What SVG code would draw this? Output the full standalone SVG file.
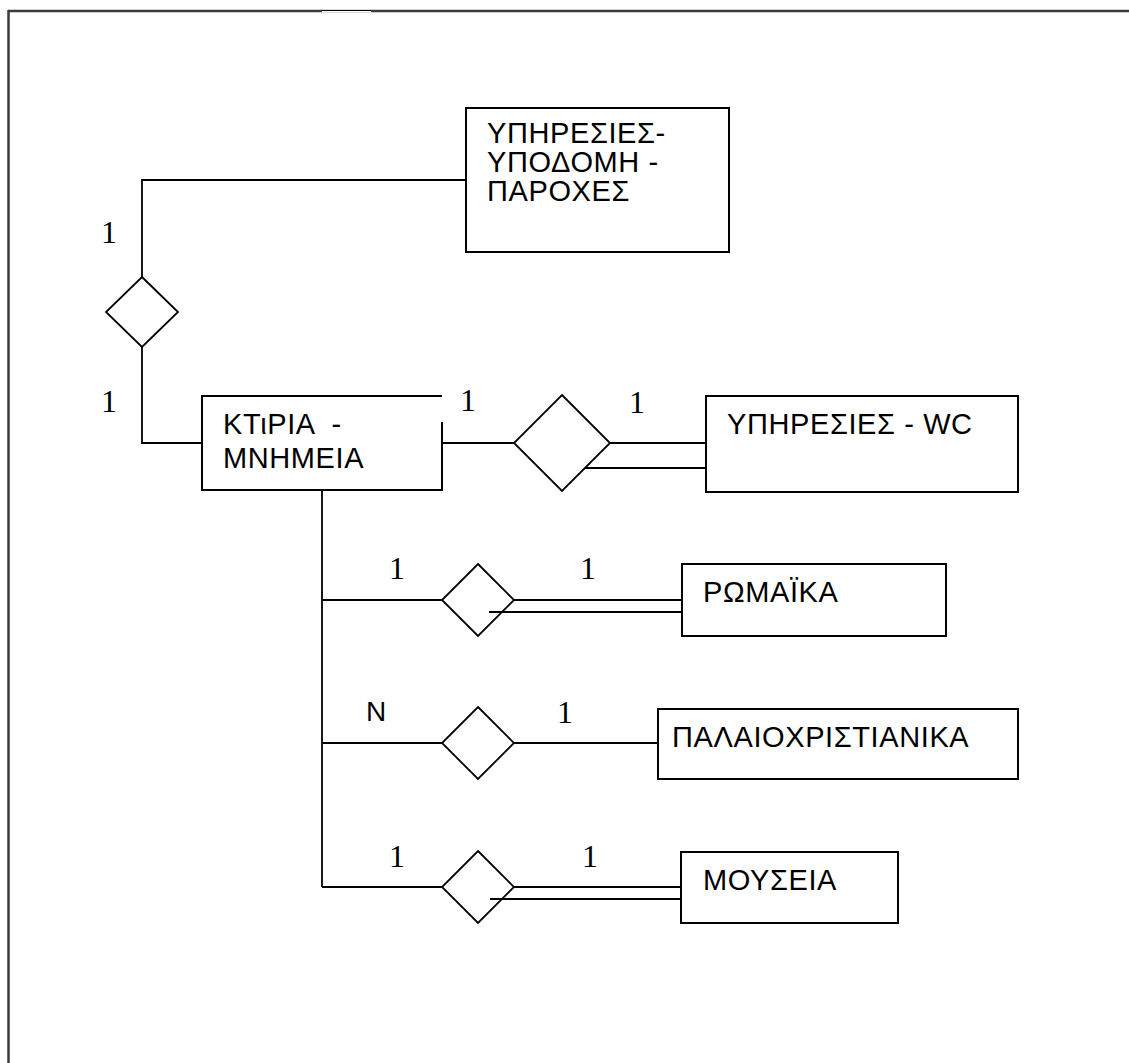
<svg xmlns="http://www.w3.org/2000/svg" width="1129" height="1063" viewBox="0 0 1129 1063">
<style>
.frame{stroke:#3a3a3a;stroke-width:2.5;fill:none}
.box{fill:#fff;stroke:#000;stroke-width:2}
.rel{fill:#fff;stroke:#000;stroke-width:1.8}
.ln{stroke:#000;stroke-width:1.8;fill:none}
.t{font-family:"Liberation Sans",Arial,sans-serif;font-size:29px;letter-spacing:0.6px;fill:#000}
.c{font-family:"Liberation Serif","Times New Roman",serif;font-size:32px;fill:#000;text-anchor:middle}
.cn{font-family:"Liberation Sans",Arial,sans-serif;font-size:28px;fill:#000;text-anchor:middle}
</style>
<rect width="1129" height="1063" fill="#fff"/>
<g id="frame">
<line class="frame" x1="8" y1="11" x2="1129" y2="11"/>
<line class="frame" x1="8.5" y1="10" x2="8.5" y2="1063"/>
<line x1="322" y1="11" x2="371" y2="11" stroke="#fff" stroke-width="2.6"/>
<line x1="322" y1="10.5" x2="371" y2="10.5" stroke="#000" stroke-width="1"/>
</g>
<g id="connectors">
<polyline class="ln" points="466,180 142,180 142,277"/>
<polyline class="ln" points="142,347 142,443 202,443"/>
<line class="ln" x1="442" y1="443" x2="514" y2="443"/>
<line class="ln" x1="610" y1="443" x2="706" y2="443"/>
<line class="ln" x1="585" y1="468" x2="706" y2="468"/>
<line class="ln" x1="322" y1="490" x2="322" y2="887"/>
<line class="ln" x1="322" y1="600" x2="442" y2="600"/>
<line class="ln" x1="514" y1="600" x2="682" y2="600"/>
<line class="ln" x1="322" y1="743" x2="442" y2="743"/>
<line class="ln" x1="514" y1="743" x2="658" y2="743"/>
<line class="ln" x1="322" y1="887" x2="442" y2="887"/>
<line class="ln" x1="514" y1="887" x2="682" y2="887"/>
</g>
<g id="rel-top"><polygon class="rel" points="142,277 178,312 142,347 106,312"/></g>
<g id="rel-wc"><polygon class="rel" points="562,395 610,443 562,491 514,443"/></g>
<g id="rel-rom"><polygon class="rel" points="478,564 514,600 478,636 442,600"/></g>
<g id="rel-pal"><polygon class="rel" points="478,707 514,743 478,779 442,743"/></g>
<g id="rel-mus"><polygon class="rel" points="478,851 514,887 478,923 442,887"/></g>
<g id="connectors-inner">
<line class="ln" x1="489" y1="612" x2="682" y2="612"/>
<line class="ln" x1="490" y1="899" x2="682" y2="899"/>
</g>
<g id="node-ypiresies-ypodomi">
<rect class="box" x="466" y="108" width="263" height="144"/>
<text class="t" x="487" y="143">ΥΠΗΡΕΣΙΕΣ-</text>
<text class="t" x="487" y="172">ΥΠΟΔΟΜΗ -</text>
<text class="t" x="487" y="201">ΠΑΡΟΧΕΣ</text>
</g>
<g id="node-ktiria">
<path class="box" d="M442,422 V490 H202 V396 H442"/>
<text class="t" x="223" y="434" xml:space="preserve">ΚΤιΡΙΑ  -</text>
<text class="t" x="223" y="468">ΜΝΗΜΕΙΑ</text>
</g>
<g id="node-wc">
<rect class="box" x="706" y="396" width="312" height="96"/>
<text class="t" x="727" y="434">ΥΠΗΡΕΣΙΕΣ - WC</text>
</g>
<g id="node-romaika">
<rect class="box" x="682" y="564" width="264" height="72"/>
<text class="t" x="703" y="602">ΡΩΜΑΪΚΑ</text>
</g>
<g id="node-palaio">
<rect class="box" x="658" y="709" width="360" height="70"/>
<text class="t" x="672" y="747">ΠΑΛΑΙΟΧΡΙΣΤΙΑΝΙΚΑ</text>
</g>
<g id="node-mouseia">
<rect class="box" x="681" y="852" width="217" height="71"/>
<text class="t" x="703" y="890">ΜΟΥΣΕΙΑ</text>
</g>
<g id="labels">
<text class="c" x="109" y="243">1</text>
<text class="c" x="109" y="412">1</text>
<text class="c" x="468" y="411">1</text>
<text class="c" x="637" y="413">1</text>
<text class="c" x="397" y="579">1</text>
<text class="c" x="588" y="579">1</text>
<text class="cn" x="376" y="721">N</text>
<text class="c" x="565" y="723">1</text>
<text class="c" x="397" y="867">1</text>
<text class="c" x="590" y="867">1</text>
</g>
</svg>
